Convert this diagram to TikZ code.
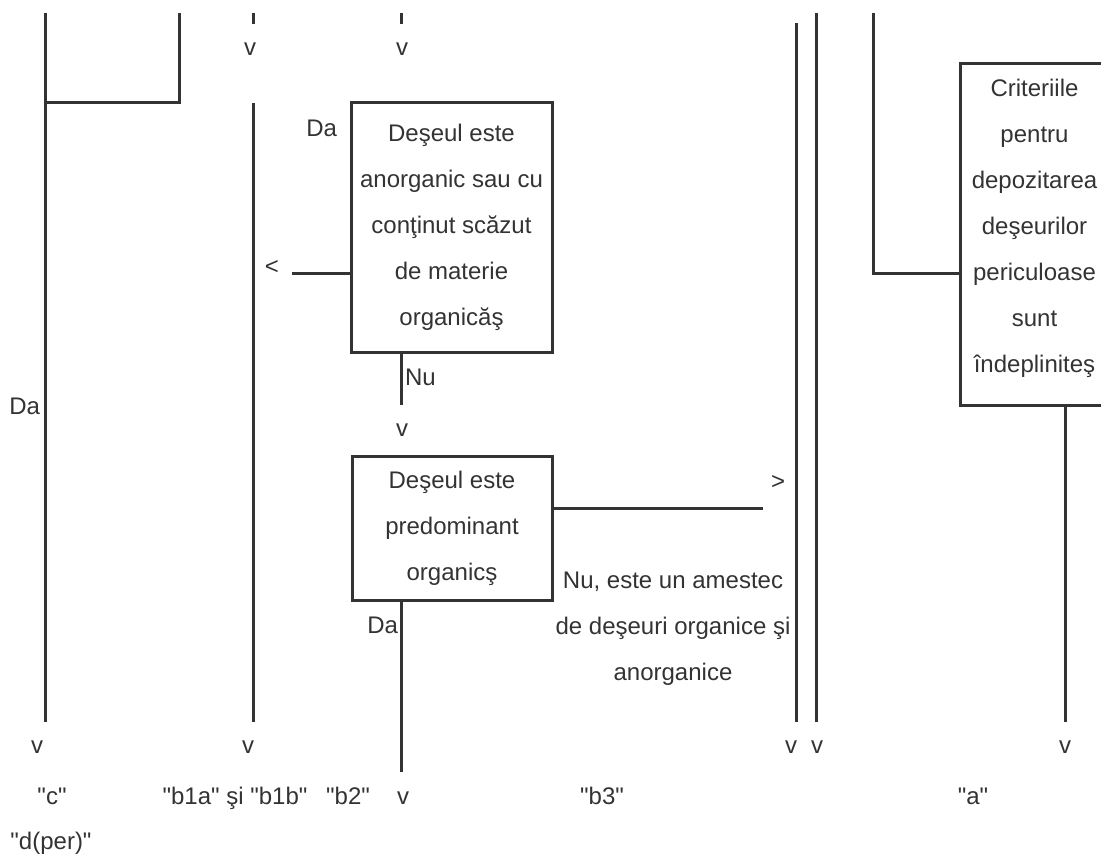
\documentclass[tikz,border=0pt]{standalone}
\usepackage{fontspec}
\setmainfont{Liberation Sans}[Ligatures=TeXOff]
\definecolor{ink}{HTML}{333333}
\begin{document}
\begin{tikzpicture}[x=1pt,y=-1pt,line width=3pt,draw=ink,
  every node/.style={font=\fontsize{24}{46}\selectfont,text=ink,inner sep=0pt,outer sep=0pt},
  box/.style={draw=ink,line width=3pt,align=center},
  lbl/.style={anchor=base},
  lble/.style={anchor=base east},
  lblw/.style={anchor=base west}]
\clip (0,0) rectangle (1101,854);
% boxes
\node[box,minimum width=201pt,minimum height=250pt] (q1) at (451.5,227)
  {Deşeul este\\anorganic sau cu\\conţinut scăzut\\de materie\\organicăş};
\node[box,minimum width=200pt,minimum height=144pt] (q2) at (452,528)
  {Deşeul este\\predominant\\organicş};
\node[box,minimum width=149pt,minimum height=342pt] (q3) at (1034.5,234)
  {Criteriile\\pentru\\depozitarea\\deşeurilor\\periculoase\\sunt\\îndeplinite{}ş\rule[-17pt]{0pt}{0pt}};
% coordinates
\coordinate (c0) at (45,13);   \coordinate (c1) at (45,722);
\coordinate (t0) at (179,13);  \coordinate (t1) at (179,102);
\coordinate (k) at (45,102);
\coordinate (s1a) at (253,13); \coordinate (s1b) at (253,24);
\coordinate (s2a) at (401,13); \coordinate (s2b) at (401,24);
\coordinate (b0) at (253,103); \coordinate (b1) at (253,722);
\coordinate (lt) at (292,273);
\coordinate (n1) at (401,405);
\coordinate (rt) at (763,508);
\coordinate (d1) at (401,772);
\coordinate (e0) at (796,23);  \coordinate (e1) at (796,722);
\coordinate (f0) at (816,13);  \coordinate (f1) at (816,722);
\coordinate (g0) at (873,13);  \coordinate (g1) at (873,273);
\coordinate (h1) at (1065,722);
% connectors
\draw (c0) -- (c1);
\draw (t0) -- (t1) -- (k);
\draw (s1a) -- (s1b);
\draw (s2a) -- (s2b);
\draw (b0) -- (b1);
\draw (lt) -- (q1.west |- lt);
\draw (q1.south -| n1) -- (n1);
\draw (q2.east |- rt) -- (rt);
\draw (q2.south -| d1) -- (d1);
\draw (e0) -- (e1);
\draw (f0) -- (f1);
\draw (g0) -- (g1) -- (q3.west |- g1);
\draw (q3.south -| h1) -- (h1);
% labels
\node[lbl] (v1) at (250,55) {v};
\node[lbl] (v2) at (402,55) {v};
\node[lble] (da1) at (337,136) {Da};
\node[lbl] (lt1) at (272,274) {<};
\node[lblw] (nu1) at (405,385) {Nu};
\node[lble] (da0) at (40,414) {Da};
\node[lbl] (v3) at (402,436) {v};
\node[lbl] (gt1) at (778,489) {>};
\node[lbl,align=center] (mix) at (673,680) {Nu, este un amestec\\de deşeuri organice şi\\anorganice};
\node[lble] (da2) at (398,633) {Da};
\node[lbl] (v4) at (37,753) {v};
\node[lbl] (v5) at (248,753) {v};
\node[lbl] (v6) at (791,753) {v};
\node[lbl] (v7) at (817,753) {v};
\node[lbl] (v8) at (1065,753) {v};
\node[lbl] (lc) at (52,804) {"c"};
\node[lbl] (lb1) at (235,804) {"b1a" şi "b1b"};
\node[lbl] (lb2) at (348,804) {"b2"};
\node[lbl] (v9) at (403,804) {v};
\node[lbl] (lb3) at (602,804) {"b3"};
\node[lbl] (la) at (973,804) {"a"};
\node[lbl] (ld) at (51,849) {"d(per)"};
\end{tikzpicture}
\end{document}
